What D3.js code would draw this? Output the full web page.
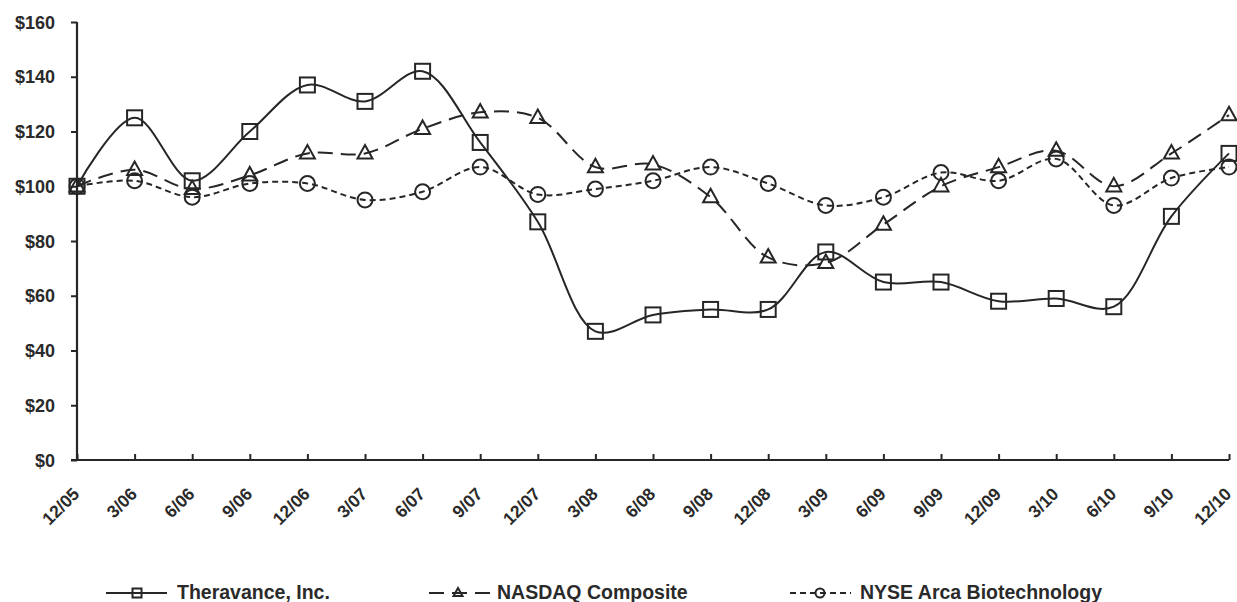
<!DOCTYPE html>
<html><head><meta charset="utf-8">
<script src="https://cdn.jsdelivr.net/npm/d3@7"></script>
<style>
html,body{margin:0;padding:0;background:#fff;}
svg{display:block;}
text{font-family:"Liberation Sans",Arial,Helvetica,sans-serif;font-weight:bold;fill:#2a2a2a;}
</style></head>
<body>
<svg id="chart" width="1237" height="602"></svg>
<script>
const categories = ["12/05","3/06","6/06","9/06","12/06","3/07","6/07","9/07","12/07","3/08","6/08","9/08","12/08","3/09","6/09","9/09","12/09","3/10","6/10","9/10","12/10"];
const theravance = [100,125,102,120,137,131,142,116,87,47,53,55,55,76,65,65,58,59,56,89,112];
const nasdaq     = [100,106,99,104,112,112,121,127,125,107,108,96,74,72,86,100,107,113,100,112,126];
const nyseBiotech= [100,102,96,101,101,95,98,107,97,99,102,107,101,93,96,105,102,110,93,103,107];
const yTicks = [0,20,40,60,80,100,120,140,160];
const seriesNames = ["Theravance, Inc.","NASDAQ Composite","NYSE Arca Biotechnology"];

const svg = d3.select("#chart");
const ink = "#262626";
const x = d3.scalePoint().domain(categories).range([77,1229]);
const y = d3.scaleLinear().domain([0,160]).range([460,22]);

// Y axis
const yAxis = svg.append("g").attr("transform","translate(77,0)")
  .call(d3.axisLeft(y).tickValues(yTicks).tickSize(6).tickPadding(16).tickFormat(d=>"$"+d));
yAxis.select(".domain").attr("stroke",ink).attr("stroke-width",2.2).attr("d","M0,22V460");
yAxis.selectAll(".tick line").attr("stroke",ink).attr("stroke-width",2);
yAxis.selectAll(".tick text").style("font-size","18px").attr("dy","0.34em");

// X axis
const xAxis = svg.append("g").attr("transform","translate(0,460)")
  .call(d3.axisBottom(x).tickSize(-6).tickPadding(0));
xAxis.select(".domain").attr("stroke",ink).attr("stroke-width",2.2).attr("d","M71,0H1229");
xAxis.selectAll(".tick line").attr("stroke",ink).attr("stroke-width",2);
xAxis.selectAll(".tick text")
  .style("font-size","17.5px")
  .attr("text-anchor","end")
  .attr("dy","0")
  .attr("y",0)
  .attr("transform","translate(3,35) rotate(-45)");

const curve = d3.curveCatmullRom.alpha(0.5);
const line = d3.line().x((d,i)=>x(categories[i])).y(d=>y(d)).curve(curve);

const series = [
  {name:seriesNames[0], values:theravance, dash:null, marker:"square"},
  {name:seriesNames[1], values:nasdaq, dash:"15,8", marker:"triangle"},
  {name:seriesNames[2], values:nyseBiotech, dash:"6,4", marker:"circle"}
];

function drawMarker(g, type, cx, cy, s){
  if(type==="square"){
    g.append("rect").attr("x",cx-s/2).attr("y",cy-s/2).attr("width",s).attr("height",s)
      .attr("fill","none").attr("stroke",ink).attr("stroke-width",2);
  } else if(type==="triangle"){
    const h = s*0.9;
    g.append("path").attr("d",`M${cx},${cy-h*0.62}L${cx+s/2},${cy+h*0.38}L${cx-s/2},${cy+h*0.38}Z`)
      .attr("fill","none").attr("stroke",ink).attr("stroke-width",2);
  } else {
    g.append("circle").attr("cx",cx).attr("cy",cy).attr("r",s/2)
      .attr("fill","none").attr("stroke",ink).attr("stroke-width",2);
  }
}

series.forEach(s=>{
  svg.append("path").datum(s.values).attr("d",line)
    .attr("fill","none").attr("stroke",ink).attr("stroke-width",2)
    .attr("stroke-dasharray",s.dash);
  const g = svg.append("g");
  s.values.forEach((v,i)=>drawMarker(g, s.marker, x(categories[i]), y(v), 15));
});

// Legend
const legendItems = [
  {x0:106, x1:167, mx:137, tx:177},
  {x0:429, x1:492, mx:458, tx:497},
  {x0:790, x1:851, mx:820, tx:860}
];
const ly = 593;
series.forEach((s,i)=>{
  const L = legendItems[i];
  const g = svg.append("g");
  g.append("line").attr("x1",L.x0).attr("x2",L.x1).attr("y1",ly).attr("y2",ly)
    .attr("stroke",ink).attr("stroke-width",2).attr("stroke-dasharray",s.dash);
  drawMarker(g, s.marker, L.mx, ly, 9);
  g.append("text").attr("x",L.tx).attr("y",ly+6).style("font-size","19.5px").text(s.name);
});
</script>
</body></html>
